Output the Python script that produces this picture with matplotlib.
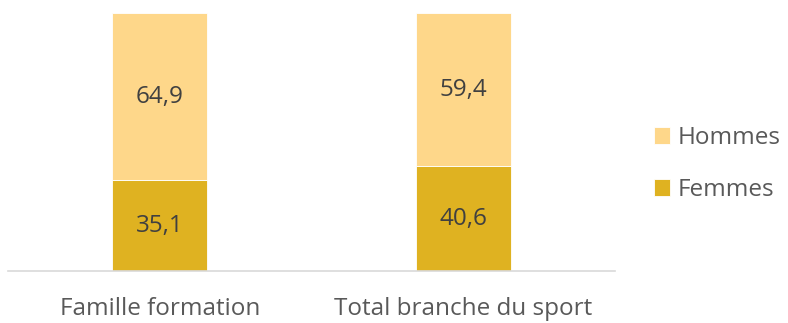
import matplotlib
matplotlib.use("Agg")
import matplotlib.pyplot as plt

categories = ["Famille formation", "Total branche du sport"]
femmes = [35.1, 40.6]
hommes = [64.9, 59.4]

COL_F = "#DFB221"
COL_H = "#FED78A"
TXT = "#404040"
GREY = "#595959"

plt.rcParams["font.family"] = ["Open Sans", "DejaVu Sans"]

fig = plt.figure(figsize=(7.88, 3.23), dpi=100)
ax = fig.add_axes([8 / 788, 52 / 323, 607 / 788, 258 / 323])

x = list(range(len(categories)))
w = 0.313
b1 = ax.bar(x, femmes, width=w, color=COL_F, edgecolor="white", linewidth=0.6, label="Femmes")
b2 = ax.bar(x, hommes, width=w, bottom=femmes, color=COL_H, edgecolor="white", linewidth=0.6, label="Hommes")

for i in x:
    ax.text(i, femmes[i] / 2, f"{femmes[i]:.1f}".replace(".", ","),
            ha="center", va="center", fontsize=17.5, color=TXT)
    ax.text(i, femmes[i] + hommes[i] / 2, f"{hommes[i]:.1f}".replace(".", ","),
            ha="center", va="center", fontsize=17.5, color=TXT)

ax.set_xlim(-0.5, 1.5)
ax.set_ylim(0, 100)
ax.set_yticks([])
ax.set_xticks(x)
ax.set_xticklabels(categories, fontsize=17.5, color=GREY)
ax.tick_params(axis="x", length=0, pad=19)
for s in ["top", "left", "right"]:
    ax.spines[s].set_visible(False)
ax.spines["bottom"].set_color("#D9D9D9")
ax.spines["bottom"].set_linewidth(1.2)

handles = [b2, b1]
leg = fig.legend(handles, ["Hommes", "Femmes"], loc="center left",
                 bbox_to_anchor=(632 / 788, 1 - 164 / 323), frameon=False,
                 fontsize=17.5, handlelength=0.66, handleheight=0.66,
                 handletextpad=0.33, labelspacing=1.15)
for t in leg.get_texts():
    t.set_color(GREY)

fig.savefig("out.png", dpi=100)
